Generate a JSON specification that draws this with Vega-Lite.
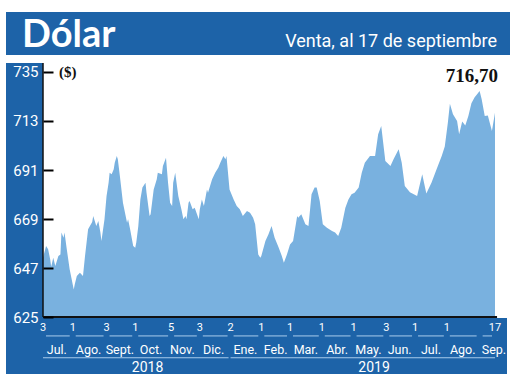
{
  "$schema": "https://vega.github.io/schema/vega-lite/v6.json",
  "background": "white",
  "padding": {"left": 6, "top": 12, "right": 0, "bottom": 5},
  "spacing": 7,
  "config": {"view": {"stroke": null}, "text": {"font": "Roboto"}},
  "datasets": {
    "dolar": [
      {"fecha": "2018-07-03", "venta": 651.6}, {"fecha": "2018-07-06", "venta": 656.9}, {"fecha": "2018-07-08", "venta": 655.4},
      {"fecha": "2018-07-10", "venta": 650.9}, {"fecha": "2018-07-11", "venta": 647.6}, {"fecha": "2018-07-13", "venta": 651.6},
      {"fecha": "2018-07-15", "venta": 647.9}, {"fecha": "2018-07-16", "venta": 649.4}, {"fecha": "2018-07-18", "venta": 652.4},
      {"fecha": "2018-07-20", "venta": 653.1}, {"fecha": "2018-07-21", "venta": 662.9}, {"fecha": "2018-07-23", "venta": 660.6},
      {"fecha": "2018-07-24", "venta": 662.9}, {"fecha": "2018-07-26", "venta": 656.1}, {"fecha": "2018-07-29", "venta": 646.4},
      {"fecha": "2018-08-02", "venta": 637.4}, {"fecha": "2018-08-03", "venta": 639.7}, {"fecha": "2018-08-05", "venta": 643.4},
      {"fecha": "2018-08-08", "venta": 644.9}, {"fecha": "2018-08-11", "venta": 643.4}, {"fecha": "2018-08-13", "venta": 652.4},
      {"fecha": "2018-08-16", "venta": 664.4}, {"fecha": "2018-08-20", "venta": 667.6}, {"fecha": "2018-08-21", "venta": 670.3},
      {"fecha": "2018-08-24", "venta": 665.9}, {"fecha": "2018-08-26", "venta": 668.1}, {"fecha": "2018-08-28", "venta": 662.9},
      {"fecha": "2018-08-29", "venta": 659.1}, {"fecha": "2018-09-01", "venta": 668.9}, {"fecha": "2018-09-03", "venta": 679.3},
      {"fecha": "2018-09-05", "venta": 685.3}, {"fecha": "2018-09-06", "venta": 689.8}, {"fecha": "2018-09-08", "venta": 689.1},
      {"fecha": "2018-09-10", "venta": 691.3}, {"fecha": "2018-09-11", "venta": 694.3}, {"fecha": "2018-09-13", "venta": 697.3},
      {"fecha": "2018-09-14", "venta": 695.8}, {"fecha": "2018-09-16", "venta": 688.3}, {"fecha": "2018-09-19", "venta": 676.3},
      {"fecha": "2018-09-23", "venta": 667.3}, {"fecha": "2018-09-24", "venta": 668.9}, {"fecha": "2018-09-26", "venta": 664.4},
      {"fecha": "2018-09-29", "venta": 656.9}, {"fecha": "2018-10-01", "venta": 656.1}, {"fecha": "2018-10-02", "venta": 658.4},
      {"fecha": "2018-10-04", "venta": 665.9}, {"fecha": "2018-10-06", "venta": 677.8}, {"fecha": "2018-10-08", "venta": 683.1},
      {"fecha": "2018-10-11", "venta": 685.3}, {"fecha": "2018-10-12", "venta": 680.8}, {"fecha": "2018-10-15", "venta": 670.3},
      {"fecha": "2018-10-16", "venta": 671.1}, {"fecha": "2018-10-19", "venta": 682.3}, {"fecha": "2018-10-22", "venta": 686.8},
      {"fecha": "2018-10-23", "venta": 689.8}, {"fecha": "2018-10-27", "venta": 689.1}, {"fecha": "2018-10-28", "venta": 692.8},
      {"fecha": "2018-10-31", "venta": 696.5}, {"fecha": "2018-11-02", "venta": 685.3}, {"fecha": "2018-11-04", "venta": 676.3},
      {"fecha": "2018-11-06", "venta": 674.8}, {"fecha": "2018-11-07", "venta": 685.3}, {"fecha": "2018-11-09", "venta": 689.8},
      {"fecha": "2018-11-12", "venta": 679.3}, {"fecha": "2018-11-15", "venta": 673.4}, {"fecha": "2018-11-17", "venta": 668.9},
      {"fecha": "2018-11-19", "venta": 670.3}, {"fecha": "2018-11-20", "venta": 668.9}, {"fecha": "2018-11-22", "venta": 676.3},
      {"fecha": "2018-11-23", "venta": 677.1}, {"fecha": "2018-11-26", "venta": 673.4}, {"fecha": "2018-11-28", "venta": 674.1},
      {"fecha": "2018-12-02", "venta": 668.9}, {"fecha": "2018-12-03", "venta": 673.4}, {"fecha": "2018-12-05", "venta": 677.8},
      {"fecha": "2018-12-07", "venta": 674.8}, {"fecha": "2018-12-10", "venta": 682.3}, {"fecha": "2018-12-11", "venta": 680.8},
      {"fecha": "2018-12-15", "venta": 686.8}, {"fecha": "2018-12-18", "venta": 689.8}, {"fecha": "2018-12-21", "venta": 692.0},
      {"fecha": "2018-12-23", "venta": 694.3}, {"fecha": "2018-12-26", "venta": 697.3}, {"fecha": "2018-12-28", "venta": 695.8},
      {"fecha": "2018-12-29", "venta": 697.3}, {"fecha": "2019-01-01", "venta": 682.3}, {"fecha": "2019-01-05", "venta": 677.8},
      {"fecha": "2019-01-08", "venta": 674.8}, {"fecha": "2019-01-11", "venta": 673.4}, {"fecha": "2019-01-14", "venta": 670.3},
      {"fecha": "2019-01-18", "venta": 672.6}, {"fecha": "2019-01-21", "venta": 671.8}, {"fecha": "2019-01-24", "venta": 669.6},
      {"fecha": "2019-01-26", "venta": 666.6}, {"fecha": "2019-01-28", "venta": 657.6}, {"fecha": "2019-01-29", "venta": 653.1},
      {"fecha": "2019-01-31", "venta": 651.6}, {"fecha": "2019-02-01", "venta": 652.4}, {"fecha": "2019-02-05", "venta": 659.1},
      {"fecha": "2019-02-08", "venta": 662.1}, {"fecha": "2019-02-11", "venta": 665.9}, {"fecha": "2019-02-14", "venta": 660.6},
      {"fecha": "2019-02-18", "venta": 656.1}, {"fecha": "2019-02-21", "venta": 652.4}, {"fecha": "2019-02-23", "venta": 649.4},
      {"fecha": "2019-02-26", "venta": 653.1}, {"fecha": "2019-03-01", "venta": 657.6}, {"fecha": "2019-03-04", "venta": 659.1},
      {"fecha": "2019-03-08", "venta": 670.3}, {"fecha": "2019-03-09", "venta": 669.6}, {"fecha": "2019-03-12", "venta": 671.1},
      {"fecha": "2019-03-16", "venta": 666.6}, {"fecha": "2019-03-19", "venta": 665.9}, {"fecha": "2019-03-22", "venta": 680.1},
      {"fecha": "2019-03-25", "venta": 683.1}, {"fecha": "2019-03-27", "venta": 683.1}, {"fecha": "2019-03-30", "venta": 677.1},
      {"fecha": "2019-04-02", "venta": 666.6}, {"fecha": "2019-04-06", "venta": 665.1}, {"fecha": "2019-04-11", "venta": 663.6},
      {"fecha": "2019-04-14", "venta": 662.9}, {"fecha": "2019-04-17", "venta": 661.4}, {"fecha": "2019-04-20", "venta": 665.1},
      {"fecha": "2019-04-24", "venta": 674.1}, {"fecha": "2019-04-27", "venta": 677.8}, {"fecha": "2019-04-30", "venta": 680.1},
      {"fecha": "2019-05-03", "venta": 680.8}, {"fecha": "2019-05-07", "venta": 683.1}, {"fecha": "2019-05-10", "venta": 689.8},
      {"fecha": "2019-05-13", "venta": 694.3}, {"fecha": "2019-05-18", "venta": 697.3}, {"fecha": "2019-05-23", "venta": 697.3},
      {"fecha": "2019-05-26", "venta": 707.0}, {"fecha": "2019-05-29", "venta": 710.8}, {"fecha": "2019-06-02", "venta": 695.0},
      {"fecha": "2019-06-07", "venta": 692.8}, {"fecha": "2019-06-10", "venta": 695.8}, {"fecha": "2019-06-15", "venta": 700.3},
      {"fecha": "2019-06-18", "venta": 694.3}, {"fecha": "2019-06-21", "venta": 683.8}, {"fecha": "2019-06-26", "venta": 681.0},
      {"fecha": "2019-07-03", "venta": 679.3}, {"fecha": "2019-07-08", "venta": 689.1}, {"fecha": "2019-07-12", "venta": 680.5},
      {"fecha": "2019-07-17", "venta": 685.3}, {"fecha": "2019-07-22", "venta": 691.3}, {"fecha": "2019-07-27", "venta": 697.3},
      {"fecha": "2019-07-30", "venta": 701.5}, {"fecha": "2019-08-02", "venta": 712.2}, {"fecha": "2019-08-04", "venta": 720.8},
      {"fecha": "2019-08-07", "venta": 716.0}, {"fecha": "2019-08-11", "venta": 713.0}, {"fecha": "2019-08-13", "venta": 707.0},
      {"fecha": "2019-08-16", "venta": 712.8}, {"fecha": "2019-08-19", "venta": 711.0}, {"fecha": "2019-08-22", "venta": 715.2},
      {"fecha": "2019-08-25", "venta": 721.0}, {"fecha": "2019-08-28", "venta": 723.5}, {"fecha": "2019-09-02", "venta": 726.5},
      {"fecha": "2019-09-04", "venta": 722.8}, {"fecha": "2019-09-07", "venta": 715.2}, {"fecha": "2019-09-10", "venta": 715.5},
      {"fecha": "2019-09-14", "venta": 708.5}, {"fecha": "2019-09-17", "venta": 716.7}
    ],
    "marcas": [
      {"fecha": "2018-07-03", "dia": "3"}, {"fecha": "2018-08-01", "dia": "1"}, {"fecha": "2018-09-03", "dia": "3"},
      {"fecha": "2018-10-01", "dia": "1"}, {"fecha": "2018-11-05", "dia": "5"}, {"fecha": "2018-12-03", "dia": "3"},
      {"fecha": "2019-01-02", "dia": "2"}, {"fecha": "2019-02-01", "dia": "1"}, {"fecha": "2019-03-01", "dia": "1"},
      {"fecha": "2019-04-01", "dia": "1"}, {"fecha": "2019-05-02", "dia": "1"}, {"fecha": "2019-06-03", "dia": "3"},
      {"fecha": "2019-07-01", "dia": "1"}, {"fecha": "2019-08-01", "dia": "1"}, {"fecha": "2019-09-02", "dia": ""},
      {"fecha": "2019-09-17", "dia": "17"}
    ],
    "meses": [
      {"mes": "2018-07-01", "nombre": "Jul."}, {"mes": "2018-08-01", "nombre": "Ago."}, {"mes": "2018-09-01", "nombre": "Sept."},
      {"mes": "2018-10-01", "nombre": "Oct."}, {"mes": "2018-11-01", "nombre": "Nov."}, {"mes": "2018-12-01", "nombre": "Dic."},
      {"mes": "2019-01-01", "nombre": "Ene."}, {"mes": "2019-02-01", "nombre": "Feb."}, {"mes": "2019-03-01", "nombre": "Mar."},
      {"mes": "2019-04-01", "nombre": "Abr."}, {"mes": "2019-05-01", "nombre": "May."}, {"mes": "2019-06-01", "nombre": "Jun."},
      {"mes": "2019-07-01", "nombre": "Jul."}, {"mes": "2019-08-01", "nombre": "Ago."}, {"mes": "2019-09-01", "nombre": "Sep."}
    ],
    "anios": [
      {"anio": "2018", "desde": "2018-07-03", "hasta": "2019-01-02"},
      {"anio": "2019", "desde": "2019-01-02", "hasta": "2019-09-19"}
    ]
  },
  "vconcat": [
    {
      "width": 504,
      "height": 43,
      "view": {"fill": "#1d63a8", "stroke": null},
      "layer": [
        {
          "data": {"values": [{"t": "Dólar"}]},
          "mark": {"type": "text", "align": "left", "baseline": "alphabetic", "font": "Lato", "fontWeight": "bold", "fontSize": 38, "color": "white"},
          "encoding": {
            "x": {"datum": 16, "type": "quantitative", "scale": {"domain": [0, 504], "nice": false, "zero": false}, "axis": null},
            "y": {"datum": 8, "type": "quantitative", "scale": {"domain": [0, 43], "nice": false, "zero": false}, "axis": null},
            "text": {"field": "t"}
          }
        },
        {
          "data": {"values": [{"t": "Venta, al 17 de septiembre"}]},
          "mark": {"type": "text", "align": "right", "baseline": "alphabetic", "font": "Roboto", "fontSize": 18, "color": "white"},
          "encoding": {
            "x": {"datum": 491, "type": "quantitative"},
            "y": {"datum": 8, "type": "quantitative"},
            "text": {"field": "t"}
          }
        }
      ]
    },
    {
      "width": 514,
      "height": 311,
      "view": {"fill": "white", "stroke": null},
      "layer": [
        {
          "data": {"name": "dolar"},
          "mark": {"type": "area", "color": "#79b1df", "opacity": 1},
          "encoding": {
            "x": {
              "field": "fecha", "type": "temporal", "axis": null,
              "scale": {"domain": [
                {"year": 2018, "month": 5, "date": 27, "hours": 21, "minutes": 36, "utc": true},
                {"year": 2019, "month": 10, "date": 11, "hours": 9, "minutes": 22, "utc": true}
              ], "nice": false}
            },
            "y": {
              "field": "venta", "type": "quantitative",
              "scale": {"domain": [599.41, 739.04], "nice": false, "zero": false},
              "axis": {
                "orient": "left", "offset": -37, "values": [625, 647, 669, 691, 713, 735],
                "title": null, "grid": false, "domain": false,
                "ticks": true, "tickSize": -10, "tickWidth": 2, "tickColor": "black",
                "labelColor": "white", "labelFont": "Roboto",
                "labelFontSize": 15, "labelPadding": 15, "zindex": 2
              }
            },
            "y2": {"datum": 625}
          }
        },
        {
          "data": {"values": [{}]},
          "mark": {"type": "rect", "color": "#1d63a8"},
          "encoding": {
            "x": {"datum": {"year": 2018, "month": 5, "date": 27, "hours": 21, "minutes": 36, "utc": true}},
            "x2": {"datum": {"year": 2018, "month": 7, "date": 3, "utc": true}},
            "y": {"datum": 599.41},
            "y2": {"datum": 739.04}
          }
        },
        {
          "data": {"values": [{}]},
          "mark": {"type": "rect", "color": "#1d63a8"},
          "encoding": {
            "x": {"datum": {"year": 2018, "month": 5, "date": 27, "hours": 21, "minutes": 36, "utc": true}},
            "x2": {"datum": {"year": 2019, "month": 9, "date": 28, "hours": 17, "utc": true}},
            "y": {"datum": 599.41},
            "y2": {"datum": 624.6}
          }
        },
        {
          "data": {"values": [{}]},
          "mark": {"type": "rule", "color": "#111111", "strokeWidth": 1.5},
          "encoding": {
            "x": {"datum": {"year": 2018, "month": 7, "date": 3, "utc": true}},
            "y": {"datum": 625},
            "y2": {"datum": 739.04}
          }
        },
        {
          "data": {"values": [{}]},
          "mark": {"type": "rule", "color": "#111111", "strokeWidth": 2},
          "encoding": {
            "x": {"datum": {"year": 2018, "month": 7, "date": 3, "utc": true}},
            "x2": {"datum": {"year": 2019, "month": 9, "date": 19, "utc": true}},
            "y": {"datum": 625}
          }
        },
        {
          "data": {"name": "marcas"},
          "transform": [
            {"window": [{"op": "lead", "field": "fecha", "as": "siguiente"}], "sort": [{"field": "fecha"}]},
            {"filter": "datum.siguiente != null"}
          ],
          "mark": {"type": "rule", "color": "#a8cbec", "strokeWidth": 1, "xOffset": 3, "x2Offset": -3},
          "encoding": {
            "x": {"field": "fecha", "type": "temporal"},
            "x2": {"field": "siguiente"},
            "y": {"datum": 616.5}
          }
        },
        {
          "data": {"name": "marcas"},
          "mark": {"type": "text", "color": "white", "fontSize": 11, "baseline": "alphabetic"},
          "encoding": {
            "x": {"field": "fecha", "type": "temporal"},
            "y": {"datum": 618.7},
            "text": {"field": "dia"}
          }
        },
        {
          "data": {"name": "meses"},
          "mark": {"type": "text", "color": "white", "fontSize": 12.5, "baseline": "alphabetic"},
          "encoding": {
            "x": {"field": "mes", "type": "temporal", "timeUnit": "utcyearmonth", "bandPosition": 0.5},
            "y": {"datum": 608.6},
            "text": {"field": "nombre"}
          }
        },
        {
          "data": {"name": "anios"},
          "mark": {"type": "rule", "color": "#a8cbec", "strokeWidth": 1, "xOffset": 0, "x2Offset": -2},
          "encoding": {
            "x": {"field": "desde", "type": "temporal"},
            "x2": {"field": "hasta"},
            "y": {"datum": 606.7}
          }
        },
        {
          "data": {"values": [{"anio": "2018"}]},
          "mark": {"type": "text", "color": "white", "fontSize": 14, "baseline": "alphabetic"},
          "encoding": {
            "x": {"datum": {"year": 2018, "month": 10, "date": 13, "utc": true}},
            "y": {"datum": 600.2},
            "text": {"field": "anio"}
          }
        },
        {
          "data": {"values": [{"anio": "2019"}]},
          "mark": {"type": "text", "color": "white", "fontSize": 14, "baseline": "alphabetic"},
          "encoding": {
            "x": {"datum": {"year": 2019, "month": 5, "date": 22, "utc": true}},
            "y": {"datum": 600.2},
            "text": {"field": "anio"}
          }
        },
        {
          "data": {"values": [{"t": "($)"}]},
          "mark": {"type": "text", "color": "#111111", "font": "Liberation Serif", "fontWeight": "bold", "fontSize": 15, "align": "left", "baseline": "middle"},
          "encoding": {
            "x": {"datum": {"year": 2018, "month": 7, "date": 18, "hours": 14, "utc": true}},
            "y": {"datum": 735},
            "text": {"field": "t"}
          }
        },
        {
          "data": {"values": [{"t": "716,70"}]},
          "mark": {"type": "text", "color": "#111111", "font": "Liberation Serif", "fontWeight": "bold", "fontSize": 19, "align": "right", "baseline": "middle"},
          "encoding": {
            "x": {"datum": {"year": 2019, "month": 9, "date": 20, "utc": true}},
            "y": {"datum": 733.2},
            "text": {"field": "t"}
          }
        }
      ]
    }
  ]
}
